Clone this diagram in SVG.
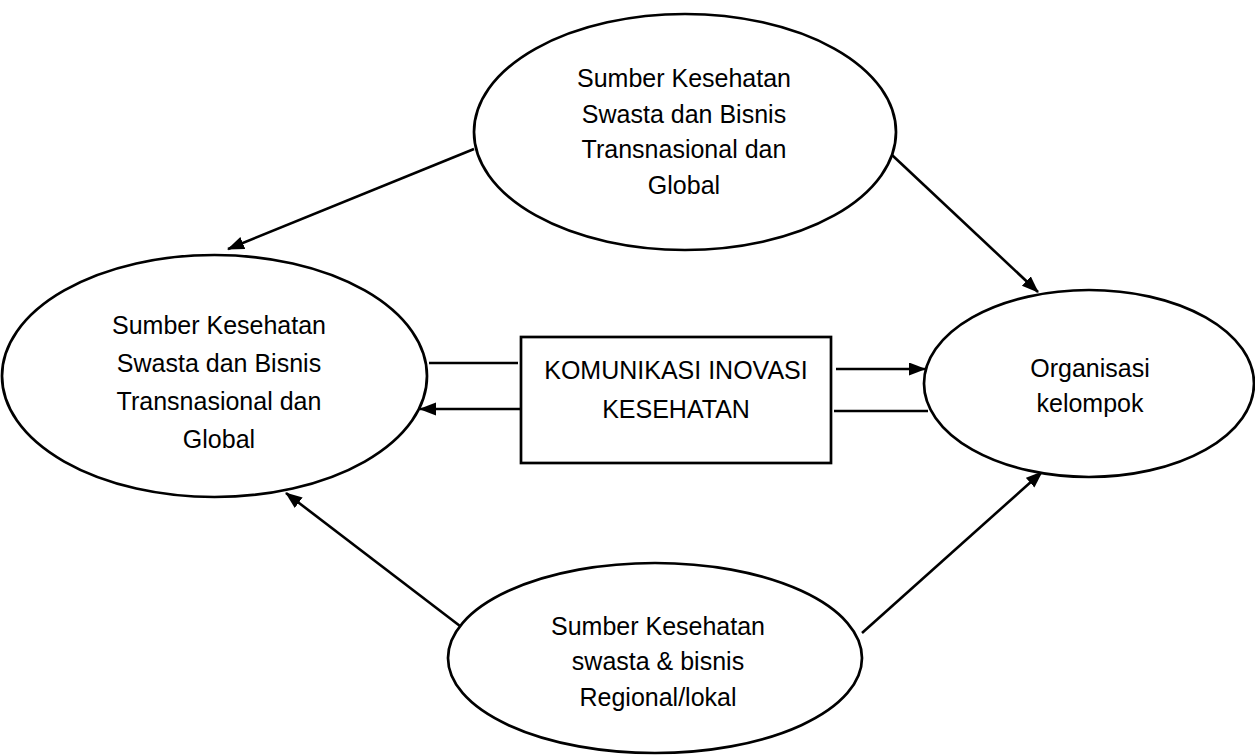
<svg xmlns="http://www.w3.org/2000/svg" width="1255" height="756" viewBox="0 0 1255 756">
<style>
.shape{fill:#fff;stroke:#000;stroke-width:2.7}
.lbl{font-family:"Liberation Sans",Arial,sans-serif;font-size:25px;fill:#000;text-anchor:middle}
.con{stroke:#000;stroke-width:2.6;fill:none}
</style>
<defs>
<marker id="ah" markerUnits="userSpaceOnUse" markerWidth="17" markerHeight="14" refX="16" refY="6.5" orient="auto">
<path d="M0,0 L17,6.5 L0,13 z" fill="#000"/>
</marker>
</defs>
<rect width="1255" height="756" fill="#fff"/>
<g id="connectors">
<line class="con" x1="474" y1="149" x2="228" y2="249" marker-end="url(#ah)"/>
<line class="con" x1="892" y1="155" x2="1038" y2="292" marker-end="url(#ah)"/>
<line class="con" x1="429" y1="363" x2="518" y2="363"/>
<line class="con" x1="522" y1="409" x2="420" y2="409" marker-end="url(#ah)"/>
<line class="con" x1="836" y1="369" x2="925" y2="369" marker-end="url(#ah)"/>
<line class="con" x1="834" y1="411" x2="928" y2="411"/>
<line class="con" x1="460" y1="626" x2="286" y2="493" marker-end="url(#ah)"/>
<line class="con" x1="862" y1="633" x2="1042" y2="472" marker-end="url(#ah)"/>
</g>
<g id="top">
<ellipse class="shape" cx="685" cy="132" rx="211" ry="118"/>
<text class="lbl" x="684" y="87">Sumber Kesehatan</text>
<text class="lbl" x="684" y="123">Swasta dan Bisnis</text>
<text class="lbl" x="684" y="158">Transnasional dan</text>
<text class="lbl" x="684" y="194">Global</text>
</g>
<g id="left">
<ellipse class="shape" cx="214.5" cy="376" rx="212.5" ry="121"/>
<text class="lbl" x="219" y="334">Sumber Kesehatan</text>
<text class="lbl" x="219" y="372">Swasta dan Bisnis</text>
<text class="lbl" x="219" y="410">Transnasional dan</text>
<text class="lbl" x="219" y="448">Global</text>
</g>
<g id="center">
<rect class="shape" x="521" y="337" width="310" height="126"/>
<text class="lbl" x="676" y="379">KOMUNIKASI INOVASI</text>
<text class="lbl" x="676" y="418">KESEHATAN</text>
</g>
<g id="right">
<ellipse class="shape" cx="1089" cy="383.5" rx="165" ry="93.5"/>
<text class="lbl" x="1090" y="377">Organisasi</text>
<text class="lbl" x="1090" y="412">kelompok</text>
</g>
<g id="bottom">
<ellipse class="shape" cx="655" cy="658" rx="207" ry="95"/>
<text class="lbl" x="658" y="635">Sumber Kesehatan</text>
<text class="lbl" x="658" y="670">swasta &amp; bisnis</text>
<text class="lbl" x="658" y="706">Regional/lokal</text>
</g>
</svg>
